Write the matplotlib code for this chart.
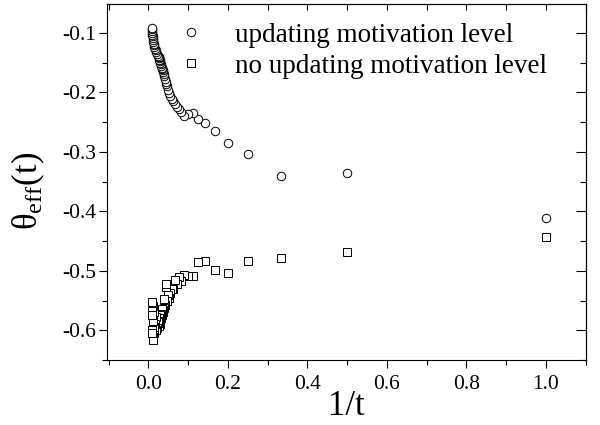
import matplotlib
matplotlib.use("Agg")
import matplotlib.pyplot as plt
from matplotlib.ticker import MultipleLocator
import numpy as np

plt.rcParams['font.family'] = ['Liberation Serif', 'DejaVu Serif']
plt.rcParams['mathtext.fontset'] = 'custom'
plt.rcParams['mathtext.rm'] = 'Liberation Serif'
plt.rcParams['mathtext.it'] = 'Liberation Serif:italic'

# time steps t; the horizontal axis shows 1/t
t_steps = [1, 2, 3, 4, 5, 6, 7, 8, 9, 10,
           11, 12, 13, 14, 15, 16, 17, 18, 19, 20,
           21, 22, 23, 24, 25, 26, 27, 28, 29, 30,
           31, 32, 33, 34, 35, 36, 37, 38, 39, 40,
           45, 50, 55, 60, 65, 70, 75, 80, 85, 90,
           95, 100, 105, 110, 115, 120]

theta_updating = [-0.412, -0.336, -0.340, -0.303, -0.286, -0.265, -0.252, -0.245, -0.234, -0.237,
                  -0.239, -0.233, -0.228, -0.224, -0.220, -0.215, -0.211, -0.206, -0.201, -0.196,
                  -0.190, -0.186, -0.182, -0.177, -0.173, -0.169, -0.166, -0.163, -0.161, -0.159,
                  -0.156, -0.153, -0.150, -0.148, -0.146, -0.145, -0.143, -0.141, -0.140, -0.139,
                  -0.136, -0.133, -0.129, -0.127, -0.124, -0.121, -0.118, -0.115, -0.112, -0.109,
                  -0.106, -0.103, -0.100, -0.097, -0.094, -0.092]

theta_fixed = [-0.444, -0.468, -0.478, -0.483, -0.504, -0.499, -0.483, -0.486, -0.509, -0.508,
               -0.507, -0.517, -0.510, -0.522, -0.516, -0.530, -0.530, -0.537, -0.545, -0.541,
               -0.550, -0.528, -0.522, -0.558, -0.562, -0.548, -0.570, -0.566, -0.575, -0.564,
               -0.580, -0.572, -0.586, -0.575, -0.590, -0.580, -0.584, -0.592, -0.588, -0.586,
               -0.596, -0.600, -0.578, -0.590, -0.605, -0.595, -0.570, -0.611, -0.560, -0.617,
               -0.585, -0.552, -0.600, -0.568, -0.605, -0.575]

labels = ["updating motivation level", "no updating motivation level"]

inv_t = 1.0 / np.array(t_steps, dtype=float)

fig = plt.figure(figsize=(6.0, 4.25), dpi=100)
ax = fig.add_axes([107 / 600, 1 - 360 / 425, (586 - 107) / 600, (360 - 4) / 425])

ax.plot(inv_t, theta_updating, linestyle='none', marker='o', markersize=6.1,
        markerfacecolor='white', markeredgecolor='black', markeredgewidth=0.7,
        label=labels[0])
ax.plot(inv_t, theta_fixed, linestyle='none', marker='s', markersize=5.5,
        markerfacecolor='white', markeredgecolor='black', markeredgewidth=0.7,
        label=labels[1])

ax.set_xlim(-0.104, 1.101)
ax.set_ylim(-0.65, -0.0515)

ax.xaxis.set_major_locator(MultipleLocator(0.2))
ax.xaxis.set_minor_locator(MultipleLocator(0.1))
ax.yaxis.set_major_locator(MultipleLocator(0.1))
ax.yaxis.set_minor_locator(MultipleLocator(0.05))
ax.xaxis.set_major_formatter(plt.FormatStrFormatter('%.1f'))
ax.yaxis.set_major_formatter(plt.FormatStrFormatter('%.1f'))

for s in ax.spines.values():
    s.set_linewidth(0.8)

ax.tick_params(which='both', direction='out', width=0.8, labelsize=15.5,
               top=False, right=False)
ax.tick_params(which='major', length=6)
ax.tick_params(which='minor', length=3.5)
ax.tick_params(axis='x', pad=5)
ax.tick_params(axis='y', pad=2)

# inward ticks along the top and right edges
top = ax.secondary_xaxis('top')
top.xaxis.set_major_locator(MultipleLocator(0.2))
top.xaxis.set_minor_locator(MultipleLocator(0.1))
top.tick_params(which='both', direction='in', length=4, width=0.8, labeltop=False)
top.spines['top'].set_linewidth(0.8)

right = ax.secondary_yaxis('right')
right.yaxis.set_major_locator(MultipleLocator(0.1))
right.yaxis.set_minor_locator(MultipleLocator(0.05))
right.tick_params(which='major', direction='in', length=7, width=0.8, labelright=False)
right.tick_params(which='minor', direction='in', length=4, width=0.8)
right.spines['right'].set_linewidth(0.8)

ax.set_xlabel('1/t', fontsize=25, labelpad=-3)
ax.set_ylabel(r'$\mathrm{\theta}_{\mathrm{eff}}\mathrm{(t)}$', fontsize=25)
ax.yaxis.set_label_coords(-0.125, 0.475)

ax.legend(loc='upper left', bbox_to_anchor=(0.108, 1.0), frameon=False,
          fontsize=19.5, handlelength=1.0, handletextpad=1.1, labelspacing=0.22,
          borderpad=0.2, markerscale=1.0)

fig.savefig('out.png', dpi=100)
